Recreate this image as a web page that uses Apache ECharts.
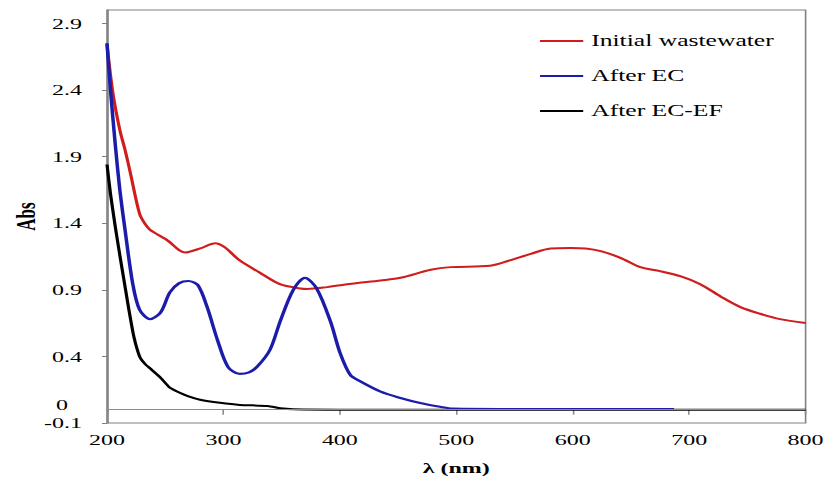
<!DOCTYPE html>
<html>
<head>
<meta charset="utf-8">
<script src="https://cdn.jsdelivr.net/npm/echarts@6/dist/echarts.min.js"></script>
<style>
html,body{margin:0;padding:0;background:#fff;overflow:hidden;width:825px;height:481px}
#c{width:515.625px;height:481px;transform:scaleX(1.6);transform-origin:0 0}
</style>
</head>
<body>
<div id="c"></div>
<script>
const seriesNames = ['Initial wastewater', 'After EC', 'After EC-EF'];

const initialNm  = [200,205,211,215.5,220,228,233,237,252,267,280,293,301,314,331,349,366,372,389,410,435,452,478,495,529,546,564,581,598,611,624,641,658,675,693,710,727,744,761,778,800];
const initialAbs = [2.74,2.38,2.10,1.95,1.78,1.47,1.39,1.35,1.27,1.18,1.21,1.25,1.22,1.12,1.03,0.94,0.91,0.906,0.92,0.945,0.97,0.99,1.05,1.07,1.08,1.12,1.17,1.21,1.214,1.21,1.19,1.14,1.07,1.04,1.00,0.94,0.85,0.77,0.72,0.68,0.65];

const ecNm  = [200,203,207,211,215.5,222,228,237,246,254,262,270,278,286,295,304,314,322,329,340,349,360,370,380,392,400,409,418,435,452,469,486,497,550,600,687];
const ecAbs = [2.75,2.40,2.00,1.65,1.35,0.95,0.75,0.68,0.73,0.88,0.95,0.966,0.936,0.77,0.52,0.32,0.268,0.28,0.323,0.45,0.67,0.90,0.99,0.91,0.66,0.43,0.26,0.21,0.135,0.088,0.05,0.022,0.008,0.005,0.005,0.005];

const ecefNm  = [200,203,207,211,215,219,223,228,233,237,246,254,263,270,280,297,314,338,349,360,400,500,600,700,800];
const ecefAbs = [1.84,1.62,1.38,1.16,0.95,0.74,0.55,0.40,0.34,0.31,0.24,0.165,0.125,0.10,0.075,0.052,0.036,0.028,0.01,0.003,0,0,0,0,0];

const xTicks = [200,300,400,500,600,700,800];
const yTicks = [-0.1,0.4,0.9,1.4,1.9,2.4,2.9];
const zeroLabel = '0';

const zip = (a, b) => a.map((v, i) => [v, b[i]]);
const colors = ['#d01c1c', '#1c1caa', '#000000'];
const font = '"Liberation Serif", "Times New Roman", serif';
const SX = 1.6; // horizontal stretch of the whole figure

const chart = echarts.init(document.getElementById('c'), null, {renderer: 'svg'});
chart.setOption({
  animation: false,
  backgroundColor: '#ffffff',
  grid: {left: 107 / SX, right: 20 / SX, top: 10, bottom: 58, containLabel: false, outerBoundsMode: 'none',
         show: true, borderColor: '#808080', borderWidth: 1, backgroundColor: 'transparent'},
  legend: {
    orient: 'vertical', left: 532 / SX, top: 26,
    icon: 'rect', itemWidth: 27, itemHeight: 2, itemGap: 15,
    textStyle: {fontFamily: font, fontSize: 16, color: '#000', lineHeight: 20},
    data: seriesNames
  },
  xAxis: {
    type: 'value', min: 200, max: 800, interval: 100,
    name: 'λ (nm)', nameLocation: 'middle', nameGap: 37, nameMoveOverlap: false,
    nameTextStyle: {fontFamily: font, fontSize: 15, fontWeight: 'bold', color: '#000'},
    axisLine: {onZero: true, lineStyle: {color: '#8c8c8c', width: 1}},
    axisTick: {show: true, length: 5, lineStyle: {color: '#8c8c8c'}, customValues: xTicks},
    axisLabel: {margin: 9, fontFamily: font, fontSize: 15, color: '#000', customValues: xTicks},
    splitLine: {show: false}
  },
  yAxis: {
    type: 'value', min: -0.1, max: 3.0,
    name: 'Abs', nameLocation: 'middle', nameGap: 42, nameRotate: 90, nameMoveOverlap: false,
    nameTextStyle: {fontFamily: font, fontSize: 17, fontWeight: 'bold', color: '#000'},
    axisLine: {show: true, lineStyle: {color: '#808080', width: 1}},
    axisTick: {show: true, length: 5 / SX, lineStyle: {color: '#808080'}, customValues: yTicks},
    axisLabel: {margin: 25 / SX, fontFamily: font, fontSize: 15, color: '#000', customValues: yTicks},
    splitLine: {show: false}
  },
  series: [
    {name: seriesNames[0], type: 'line', data: zip(initialNm, initialAbs), symbol: 'none', smooth: 0.3, lineStyle: {color: colors[0], width: 2}, itemStyle: {color: colors[0]}, z: 3},
    {name: seriesNames[1], type: 'line', data: zip(ecNm, ecAbs), symbol: 'none', smooth: 0.3, lineStyle: {color: colors[1], width: 2.2}, itemStyle: {color: colors[1]}, z: 4},
    {name: seriesNames[2], type: 'line', data: zip(ecefNm, ecefAbs), symbol: 'none', smooth: 0.2, lineStyle: {color: colors[2], width: 2}, itemStyle: {color: colors[2]}, z: 2,
     markLine: {silent: true, symbol: 'none', lineStyle: {color: '#8c8c8c', width: 1, type: 'solid'},
       label: {show: true, position: 'start', formatter: zeroLabel, distance: 39 / SX, offset: [0, -5],
               fontFamily: font, fontSize: 15, color: '#000'},
       data: [{yAxis: 0}]}}
  ]
});
</script>
</body>
</html>
